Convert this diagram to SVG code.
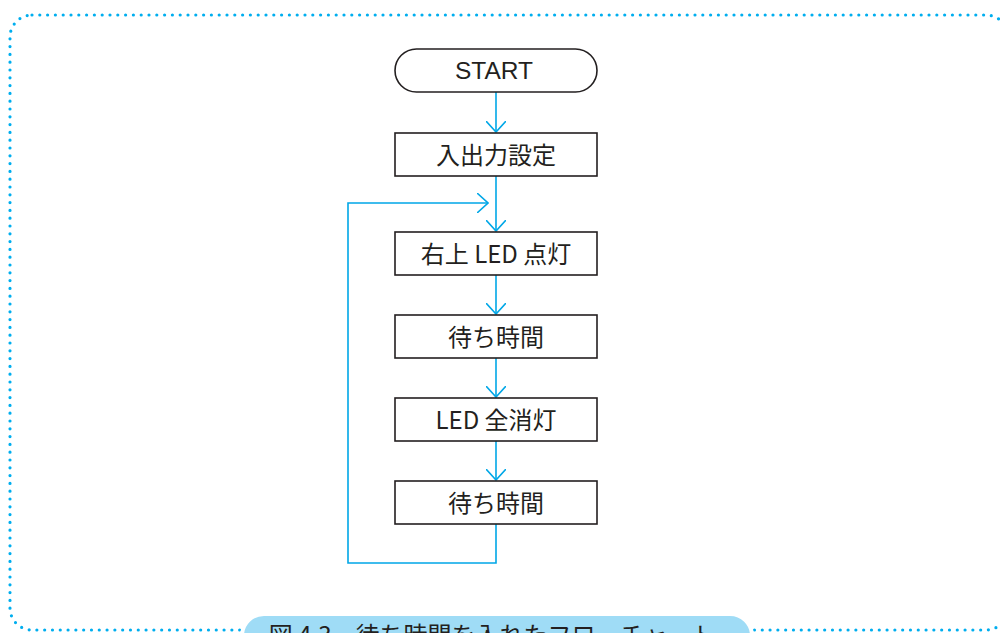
<svg xmlns="http://www.w3.org/2000/svg" width="1000" height="633" viewBox="0 0 1000 633">
<defs>
<style>
.frame{fill:none;stroke:#00aeef;stroke-width:3.2;stroke-dasharray:0 7.8;stroke-linecap:round}
.box{fill:#fff;stroke:#231f20;stroke-width:1.6}
.lbl{font-family:"Noto Sans CJK JP","Liberation Sans",sans-serif;font-size:24px;fill:#231f20;text-anchor:middle;dominant-baseline:central}
.lat{font-family:"Liberation Sans","Noto Sans CJK JP",sans-serif;font-size:24.5px;fill:#231f20;text-anchor:middle;dominant-baseline:central}
.conn{fill:none;stroke:#00a7e7;stroke-width:1.6}
.cap{font-family:"Noto Sans CJK JP",sans-serif;font-size:24px;fill:#231f20;text-anchor:middle}
</style>
<marker id="ah" viewBox="0 0 12 20" refX="11" refY="10" markerWidth="12" markerHeight="20" markerUnits="userSpaceOnUse" orient="auto">
<path d="M0,0 L11,10 L0,20" fill="none" stroke="#00a7e7" stroke-width="1.6"/>
</marker>
</defs>
<rect width="1000" height="633" fill="#fff"/>
<rect class="frame" x="10" y="15" width="998" height="615" rx="22" ry="22"/>
<g id="connectors">
<line class="conn" x1="496" y1="92" x2="496" y2="132" marker-end="url(#ah)"/>
<line class="conn" x1="496" y1="176" x2="496" y2="231" marker-end="url(#ah)"/>
<line class="conn" x1="496" y1="275" x2="496" y2="314" marker-end="url(#ah)"/>
<line class="conn" x1="496" y1="358" x2="496" y2="397" marker-end="url(#ah)"/>
<line class="conn" x1="496" y1="441" x2="496" y2="480" marker-end="url(#ah)"/>
<polyline class="conn" points="496,524 496,563 348,563 348,203 488,203" marker-end="url(#ah)"/>
</g>
<g id="start">
<rect class="box" x="395" y="49" width="202" height="43" rx="21.5" ry="21.5"/>
<text class="lat" x="494" y="70">START</text>
</g>
<g id="setup">
<rect class="box" x="395" y="133" width="202" height="43"/>
<text class="lbl" x="496" y="153">入出力設定</text>
</g>
<g id="led-on">
<rect class="box" x="395" y="232" width="202" height="43"/>
<text class="lbl" x="496" y="252">右上 LED 点灯</text>
</g>
<g id="wait1">
<rect class="box" x="395" y="315" width="202" height="43"/>
<text class="lbl" x="496" y="335">待ち時間</text>
</g>
<g id="led-off">
<rect class="box" x="395" y="398" width="202" height="43"/>
<text class="lbl" x="496" y="418">LED 全消灯</text>
</g>
<g id="wait2">
<rect class="box" x="395" y="481" width="202" height="43"/>
<text class="lbl" x="496" y="501">待ち時間</text>
</g>
<g id="caption">
<rect x="242" y="614" width="510" height="50" rx="22" ry="22" fill="#9fdcf6" stroke="#fff" stroke-width="4"/>
<text class="cap" x="492" y="644">図 4.3　待ち時間を入れたフローチャート</text>
</g>
</svg>
